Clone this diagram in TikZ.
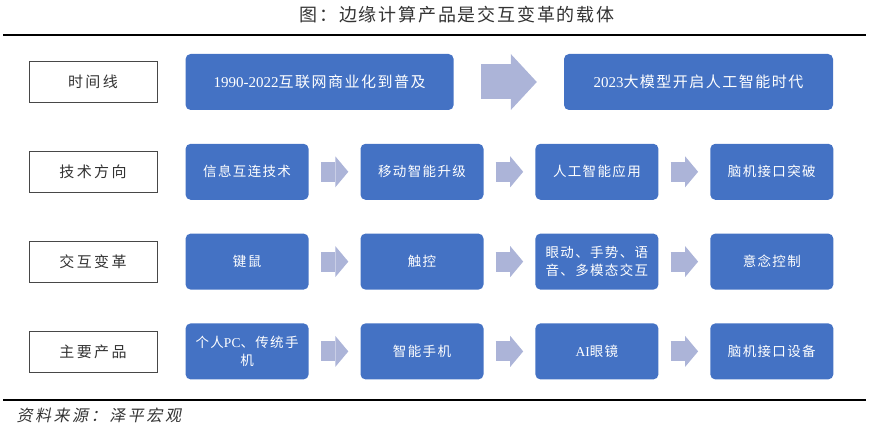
\documentclass[tikz,border=0pt]{standalone}
\usepackage{fontspec}
\setmainfont{Liberation Serif}
\newfontfamily\cjk[LetterSpace=10]{Noto Sans CJK SC}
\newfontfamily\cjkwide[LetterSpace=16]{Noto Sans CJK SC}
\newfontfamily\cjkslant[LetterSpace=16,FakeSlant=0.2]{Noto Sans CJK SC}
\usepackage{xcolor}
\usepackage{tikz}
\usetikzlibrary{positioning,arrows.meta}

\definecolor{boxblue}{RGB}{68,114,196}
\definecolor{flowgray}{RGB}{172,180,216}
\definecolor{inkgray}{RGB}{51,51,51}

\begin{document}
\begin{tikzpicture}[
  x=1pt, y=-1pt,
  lab/.style={draw=inkgray!90,line width=0.8pt,text=inkgray,minimum width=128pt,minimum height=41pt,
              inner sep=1pt,font=\cjkwide\fontsize{15}{18}\selectfont},
  stepbox/.style={fill=boxblue,rounded corners=5pt,text=white,align=center,minimum width=123pt,
              minimum height=56pt,inner sep=1pt,font=\cjk\fontsize{13.5}{18}\selectfont},
  erabox/.style={stepbox,font=\cjk\fontsize{15}{18}\selectfont},
  flow/.style={draw=flowgray,line width=20pt,-{Triangle[length=13pt,width=31pt,line width=0pt]},
              shorten <=12pt,shorten >=12pt},
  bigflow/.style={draw=flowgray,line width=35pt,-{Triangle[length=26pt,width=56pt,line width=0pt]},
              shorten <=27pt,shorten >=27pt},
  rule/.style={line width=2.6pt,black},
]
\useasboundingbox (0,0) rectangle (869,427);
\node[text=inkgray,font=\cjk\fontsize{18}{20}\selectfont] (title) at (457,15) {图：边缘计算产品是交互变革的载体};
\draw[rule] (3,35) -- (866,35);

\node[lab] (time) at (93,82) {时间线};
\node[lab, below=48pt of time] (tech) {技术方向};
\node[lab, below=48pt of tech] (inter) {交互变革};
\node[lab, below=48pt of inter] (prod) {主要产品};

\node[erabox, minimum width=268pt, right=28pt of time] (era1) {{\rmfamily 1990-2022}互联网商业化到普及};
\node[erabox, minimum width=269pt, right=110pt of era1] (era2) {{\rmfamily 2023}大模型开启人工智能时代};

\node[stepbox, right=28pt of tech] (tech1) {信息互连技术};
\node[stepbox, right=51.5pt of tech1] (tech2) {移动智能升级};
\node[stepbox, right=51.5pt of tech2] (tech3) {人工智能应用};
\node[stepbox, right=51.5pt of tech3] (tech4) {脑机接口突破};

\node[stepbox, right=28pt of inter] (inter1) {键鼠};
\node[stepbox, right=51.5pt of inter1] (inter2) {触控};
\node[stepbox, right=51.5pt of inter2] (inter3) {眼动、手势、语\\音、多模态交互};
\node[stepbox, right=51.5pt of inter3] (inter4) {意念控制};

\node[stepbox, right=28pt of prod] (prod1) {个人{\rmfamily PC}、传统手\\机};
\node[stepbox, right=51.5pt of prod1] (prod2) {智能手机};
\node[stepbox, right=51.5pt of prod2] (prod3) {{\rmfamily AI}眼镜};
\node[stepbox, right=51.5pt of prod3] (prod4) {脑机接口设备};

\draw[bigflow] (era1) -- (era2);
\draw[flow] (tech1) -- (tech2);
\draw[flow] (tech2) -- (tech3);
\draw[flow] (tech3) -- (tech4);
\draw[flow] (inter1) -- (inter2);
\draw[flow] (inter2) -- (inter3);
\draw[flow] (inter3) -- (inter4);
\draw[flow] (prod1) -- (prod2);
\draw[flow] (prod2) -- (prod3);
\draw[flow] (prod3) -- (prod4);

\draw[rule] (3,400) -- (866,400);
\node[anchor=west,text=inkgray,font=\cjkslant\fontsize{16}{18}\selectfont] (source) at (13,415) {资料来源：泽平宏观};
\end{tikzpicture}
\end{document}
